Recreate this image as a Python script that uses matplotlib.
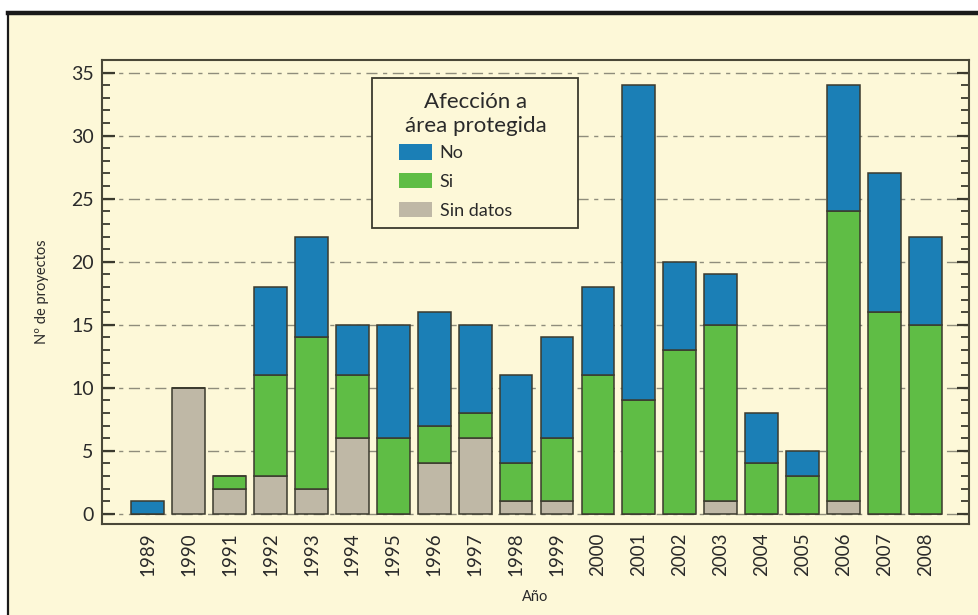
import matplotlib
matplotlib.use("Agg")
import matplotlib.pyplot as plt
from matplotlib.patches import Patch, Rectangle
from matplotlib.lines import Line2D
from matplotlib.ticker import MultipleLocator
import numpy as np

plt.rcParams['font.family'] = ['Lato', 'DejaVu Sans']

years = ["1989", "1990", "1991", "1992", "1993", "1994", "1995", "1996", "1997", "1998",
         "1999", "2000", "2001", "2002", "2003", "2004", "2005", "2006", "2007", "2008"]
sin_datos = [0, 10, 2, 3, 2, 6, 0, 4, 6, 1, 1, 0, 0, 0, 1, 0, 0, 1, 0, 0]
si = [0, 0, 1, 8, 12, 5, 6, 3, 2, 3, 5, 11, 9, 13, 14, 4, 3, 23, 16, 15]
no = [1, 0, 0, 7, 8, 4, 9, 9, 7, 7, 8, 7, 25, 7, 4, 4, 2, 10, 11, 7]
legend_labels = ["No", "Si", "Sin datos"]
legend_title = "Afección a\nárea protegida"

c_no = "#1b7fb6"
c_si = "#5fbd45"
c_sd = "#bfb8a6"
edge = "#3b3a2e"
cream = "#fdf8d8"
txt = "#2a2a2a"

W, H = 979, 615
fig = plt.figure(figsize=(W / 100, H / 100), dpi=100)
fig.patch.set_facecolor("white")

# cream panel with black frame on top and left
fig.add_artist(Rectangle((8 / W, 0), 1 - 8 / W, 1 - 12 / H, transform=fig.transFigure,
                         facecolor=cream, edgecolor="none", zorder=0))
fig.add_artist(Line2D([8 / W, 1], [1 - 13 / H, 1 - 13 / H], transform=fig.transFigure,
                      color="#1a1a1a", lw=3.2, zorder=1))
fig.add_artist(Line2D([8.5 / W, 8.5 / W], [0, 1 - 13 / H], transform=fig.transFigure,
                      color="#1a1a1a", lw=1.6, zorder=1))

ax = fig.add_axes([102 / W, 1 - 524 / H, (969 - 102) / W, (524 - 60) / H])
ax.set_facecolor(cream)

x = np.arange(len(years))
sd = np.array(sin_datos)
s = np.array(si)
n = np.array(no)
kw = dict(width=0.8, edgecolor=edge, linewidth=1.1, zorder=3)
ax.bar(x, sd, color=c_sd, **kw)
ax.bar(x, s, bottom=sd, color=c_si, **kw)
ax.bar(x, n, bottom=sd + s, color=c_no, **kw)

ax.set_xlim(-1.12, len(years) - 1 + 1.07)
ax.set_ylim(-0.8, 36)
ax.yaxis.set_major_locator(MultipleLocator(5))
ax.yaxis.set_minor_locator(MultipleLocator(1))
ax.set_xticks(x)
ax.set_xticklabels(years, rotation=90, fontsize=13.5, color=txt)
ax.tick_params(axis="x", length=0, pad=6)
ax.tick_params(axis="y", which="major", direction="in", length=9, width=1.6,
               left=True, right=True, labelsize=14, colors="#3b3a2e", labelcolor=txt, pad=6)
ax.tick_params(axis="y", which="minor", direction="in", length=6, width=1.3,
               left=True, right=True, colors="#3b3a2e")

ax.grid(axis="y", which="major", color="#8f8d7c", linestyle=(0, (8, 4, 3, 4)), linewidth=1.0, zorder=0)
ax.set_axisbelow(True)
for sp in ax.spines.values():
    sp.set_color("#4a4838")
    sp.set_linewidth(1.5)

ax.set_ylabel("Nº de proyectos", fontsize=10.5, color=txt, labelpad=16)
ax.set_xlabel("Año", fontsize=10.5, color=txt, labelpad=10)

# legend box drawn as a rectangle inside the axes, legend itself frameless
box = Rectangle((372 / W, 1 - 228 / H), (578 - 372) / W, (228 - 78) / H,
                transform=fig.transFigure, facecolor=cream, edgecolor="#3b3a2e",
                linewidth=1.3, zorder=4, clip_on=False)
ax.add_patch(box)
ax.text(476 / W, 1 - 114 / H, legend_title, transform=fig.transFigure, ha="center", va="center",
        multialignment="center", fontsize=16, fontweight="normal", color=txt, zorder=6,
        linespacing=1.2)
handles = [Patch(facecolor=c_no, edgecolor="none"),
           Patch(facecolor=c_si, edgecolor="none"),
           Patch(facecolor=c_sd, edgecolor="none")]
leg = ax.legend(handles, legend_labels,
                loc="upper left", bbox_to_anchor=(399 / W, 1 - 144 / H), bbox_transform=fig.transFigure,
                fontsize=13, frameon=False,
                handlelength=1.85, handleheight=0.95, handletextpad=0.4, labelspacing=0.66,
                borderpad=0.0, borderaxespad=0.0)
leg.set_zorder(5)
for t in leg.get_texts():
    t.set_color(txt)

fig.savefig("out.png", dpi=100, facecolor=fig.get_facecolor())
